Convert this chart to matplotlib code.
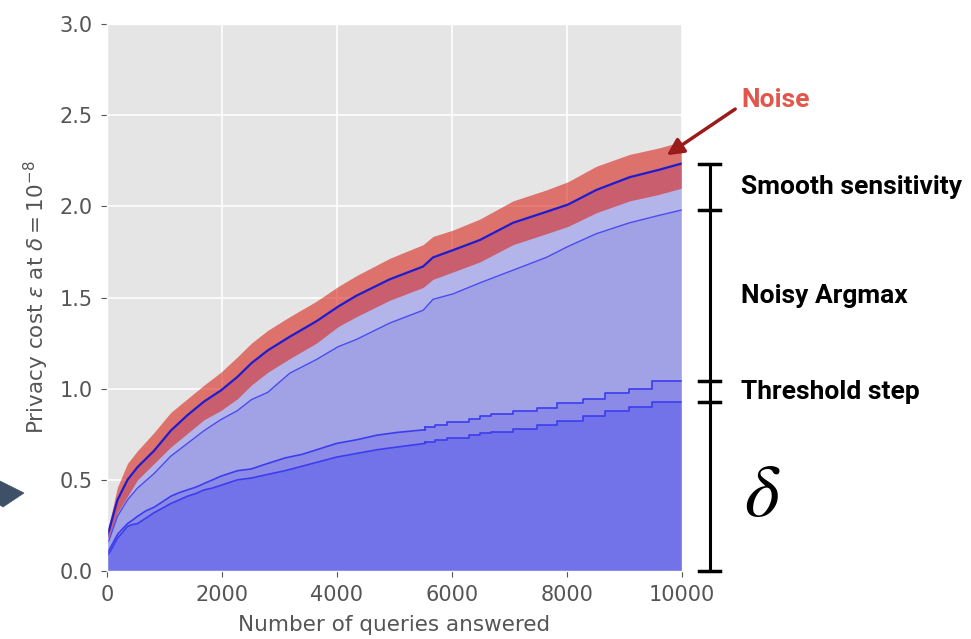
import numpy as np
import matplotlib.pyplot as plt
from matplotlib.patches import Polygon
import matplotlib.transforms as mtransforms

plt.style.use('ggplot')

# smooth curves: total cost, noisy argmax part, noise spread above/below
queries = [0, 40, 185, 360, 534, 823, 1113, 1403, 1693, 1983, 2273, 2516, 2800,
           3183, 3647, 4023, 4342, 4922, 5502, 5675, 6023, 6487, 7067, 7646,
           8023, 8516, 9096, 9600, 10000]
total = [0.19, 0.225, 0.39, 0.50, 0.57, 0.66, 0.77, 0.855, 0.93, 0.99, 1.065,
         1.14, 1.21, 1.285, 1.37, 1.45, 1.51, 1.60, 1.67, 1.72, 1.76, 1.815,
         1.91, 1.97, 2.01, 2.09, 2.16, 2.20, 2.235]
argmax = [0.15, 0.17, 0.30, 0.39, 0.455, 0.535, 0.63, 0.70, 0.77, 0.83, 0.88,
          0.94, 0.98, 1.085, 1.16, 1.23, 1.27, 1.36, 1.43, 1.49, 1.52, 1.58,
          1.65, 1.72, 1.78, 1.85, 1.91, 1.95, 1.98]
noise_up = [0.02, 0.035, 0.07, 0.09, 0.09, 0.10, 0.10, 0.09, 0.09, 0.10, 0.11,
            0.11, 0.11, 0.11, 0.11, 0.11, 0.11, 0.115, 0.12, 0.115, 0.11, 0.115,
            0.12, 0.12, 0.125, 0.13, 0.125, 0.12, 0.12]
noise_dn = [0.02, 0.035, 0.07, 0.09, 0.07, 0.07, 0.09, 0.10, 0.10, 0.11, 0.12,
            0.12, 0.12, 0.12, 0.12, 0.11, 0.115, 0.115, 0.115, 0.12, 0.12, 0.12,
            0.12, 0.12, 0.12, 0.125, 0.13, 0.135, 0.135]

# threshold step and delta: fine-grained at first, visible steps later on
early_q = [0, 40, 100, 185, 270, 360, 450, 534, 680, 823, 970, 1113, 1260,
           1403, 1550, 1693, 1840, 1983, 2273, 2516, 2800, 3100, 3400, 3700,
           4000, 4350, 4700, 5050, 5541]
thr_early = [0.09, 0.115, 0.15, 0.20, 0.23, 0.26, 0.28, 0.30, 0.33, 0.35, 0.38,
             0.41, 0.43, 0.445, 0.46, 0.48, 0.50, 0.52, 0.55, 0.56, 0.59, 0.62,
             0.64, 0.67, 0.70, 0.72, 0.745, 0.76, 0.775]
delta_early = [0.08, 0.097, 0.13, 0.18, 0.21, 0.245, 0.255, 0.26, 0.29, 0.32,
               0.345, 0.37, 0.39, 0.41, 0.425, 0.445, 0.455, 0.47, 0.50, 0.51,
               0.53, 0.55, 0.575, 0.60, 0.625, 0.645, 0.665, 0.68, 0.70]

late_q = [5541, 5701, 5923, 6306, 6497, 6689, 7071, 7485, 7835, 8282, 8663,
          9077, 9490, 10000]
thr_late = [0.79, 0.80, 0.82, 0.835, 0.85, 0.86, 0.875, 0.895, 0.92, 0.945,
            0.975, 1.00, 1.04, 1.04]
delta_late = [0.71, 0.72, 0.73, 0.745, 0.755, 0.765, 0.78, 0.80, 0.825, 0.85,
              0.875, 0.90, 0.925, 0.925]

q = np.array(queries)
tot = np.array(total)

fig = plt.figure(figsize=(9.71, 6.39), dpi=100)
ax = fig.add_axes([0.110, 0.1064, 0.592, 0.856])

# stacked bands, lightest on top
ax.fill_between(q, 0, tot, color='#b3b4ea', lw=0)
ax.fill_between(q, 0, argmax, color='#a1a1e5', lw=0)
for lo_q, lo_v, kw in [(early_q, thr_early, {}), (late_q, thr_late, {'step': 'post'})]:
    ax.fill_between(lo_q, 0, lo_v, color='#8b8ae6', lw=0, **kw)
for lo_q, lo_v, kw in [(early_q, delta_early, {}), (late_q, delta_late, {'step': 'post'})]:
    ax.fill_between(lo_q, 0, lo_v, color='#7273e8', lw=0, **kw)
ax.fill_between(q, tot - np.array(noise_dn), tot + np.array(noise_up),
                color='#d9261c', alpha=0.6, lw=0)

line_kw = dict(color='#3c3cf0', lw=1.2)
ax.plot(early_q, delta_early, **line_kw)
ax.plot(late_q, delta_late, drawstyle='steps-post', **line_kw)
ax.plot(early_q, thr_early, **line_kw)
ax.plot(late_q, thr_late, drawstyle='steps-post', **line_kw)
ax.plot([early_q[-1]] * 2, [delta_early[-1], delta_late[0]], **line_kw)
ax.plot([early_q[-1]] * 2, [thr_early[-1], thr_late[0]], **line_kw)
ax.plot(q, argmax, color='#4a4af2', lw=1.0)
ax.plot(q, tot, color='#1c1cd0', lw=1.6)

ax.set_xlim(0, 10000)
ax.set_ylim(0, 3.0)
ax.set_xticks(range(0, 10001, 2000))
ax.set_yticks(np.arange(0, 3.01, 0.5))
ax.grid(True, color='white', lw=1.2)
ax.tick_params(labelsize=15, colors='#555555', length=4, pad=6)
ax.set_xlabel('Number of queries answered', fontsize=15.5, color='#555555',
              labelpad=7)
ax.set_ylabel(r'Privacy cost $\epsilon$ at $\delta = 10^{-8}$', fontsize=15.5,
              color='#555555', labelpad=6)

# bracket on the right showing each contribution
trans = mtransforms.blended_transform_factory(ax.transAxes, ax.transData)
levels = [total[-1], argmax[-1], thr_late[-1], delta_late[-1], 0.0]
bx = 1.049
ax.plot([bx, bx], [levels[0], levels[-1]], color='black', lw=2.2,
        transform=trans, clip_on=False)
for lv in levels:
    ax.plot([bx - 0.018, bx + 0.018], [lv, lv], color='black', lw=2.5,
            transform=trans, clip_on=False)

labels = ['Smooth sensitivity', 'Noisy Argmax', 'Threshold step']
for i, lab in enumerate(labels):
    mid = (levels[i] + levels[i + 1]) / 2
    ax.text(1.104, mid, lab, transform=trans, fontsize=19, fontweight='bold',
            family='Roboto', color='black', va='center', ha='left')
ax.text(1.109, (levels[3] + levels[4]) / 2 - 0.05, r'$\delta$',
        transform=trans, fontsize=54, math_fontfamily='stix', color='black',
        va='center', ha='left')

# arrow for the noise band
ax.annotate('Noise', xy=(9740, 2.28), xycoords='data',
            xytext=(1.104, 2.583), textcoords=trans,
            fontsize=19, fontweight='bold', family='Roboto', color='#e2574c',
            va='center', ha='left',
            arrowprops=dict(arrowstyle='-|>', color='#9b1b1b', lw=2.5,
                            mutation_scale=25, shrinkA=3, shrinkB=0,
                            relpos=(0.0, 0.3)))

# pointer coming in from the left edge
H = 639
pts = [(0, 481), (24, 493), (3, 507), (0, 505)]
fig.patches.append(Polygon([(x / 971, (H - y) / H) for x, y in pts],
                           closed=True, transform=fig.transFigure,
                           color='#3d5068'))

fig.savefig('out.png', dpi=100, facecolor='white')
